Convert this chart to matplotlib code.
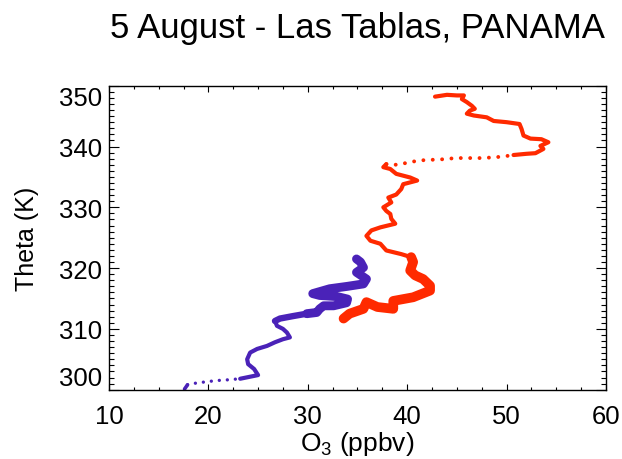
import matplotlib
matplotlib.use("Agg")
import matplotlib.pyplot as plt
from matplotlib.ticker import MultipleLocator

plt.rcParams["font.family"] = ["Liberation Sans", "DejaVu Sans"]
plt.rcParams["mathtext.fontset"] = "custom"
plt.rcParams["mathtext.rm"] = "Liberation Sans"
plt.rcParams["mathtext.default"] = "rm"

# purple profile (lower)
purple_o3 = [17.6, 17.9, 18.8, 19.8, 20.8, 21.8, 23.2, 25.0, 24.6, 24.0,
             23.9, 24.2, 24.9, 25.9, 26.7, 27.5, 28.2, 27.9, 27.5, 26.9,
             26.7, 27.2, 28.5, 29.9, 30.9, 31.2, 31.6, 32.6, 33.9, 34.0,
             33.0, 31.2, 30.5, 32.2, 34.0, 35.6, 35.9, 34.9, 35.6, 35.3, 34.9]
purple_theta = [300.1, 300.8, 301.1, 301.3, 301.5, 301.6, 301.8, 302.4, 303.4, 304.2,
                305.0, 306.1, 306.7, 307.2, 307.8, 308.3, 308.6, 309.4, 310.0, 310.5,
                311.3, 311.7, 312.1, 312.5, 312.7, 313.3, 313.8, 313.8, 314.3, 314.9,
                315.3, 315.5, 315.8, 316.6, 317.0, 317.4, 318.2, 319.3, 320.1, 321.0, 321.5]

# red profile (upper)
red_o3 = [33.6, 34.2, 35.6, 35.9, 37.0, 38.6, 38.6, 40.6, 42.3, 42.3,
          41.6, 40.8, 40.3, 40.6, 40.4, 39.4, 37.9, 37.3, 36.3, 35.9,
          36.4, 37.3, 38.8, 38.4, 38.3, 37.9, 37.6, 38.4, 38.1, 38.9,
          39.4, 39.6, 41.0, 40.3, 38.9, 38.3, 37.6, 37.9,
          38.9, 40.3, 41.1, 42.3, 43.6, 44.9, 45.9, 47.3, 48.6, 49.3, 50.3,
          50.7, 52.0, 52.9, 53.7, 53.4, 54.2, 53.5, 52.4, 51.7, 51.5,
          51.3, 50.0, 48.7, 48.0, 46.7, 46.0, 46.3, 46.8, 46.5, 46.0,
          45.5, 45.7, 45.0, 44.0, 42.8]
red_theta = [311.7, 312.5, 313.3, 314.4, 313.6, 313.3, 314.6, 315.2, 316.3, 317.1,
             318.2, 318.8, 319.6, 321.0, 321.8, 322.3, 322.9, 324.0, 324.5, 325.3,
             326.2, 326.7, 327.3, 328.1, 328.9, 329.4, 330.0, 330.8, 331.6, 332.1,
             333.0, 333.8, 334.4, 334.9, 335.5, 336.3, 336.6, 337.1,
             337.0, 337.4, 337.7, 337.8, 337.9, 338.1, 338.1, 338.1, 338.2, 338.3, 338.5,
             338.6, 338.8, 338.9, 339.6, 340.1, 340.7, 341.2, 341.3, 341.8, 342.9,
             343.7, 344.0, 344.2, 344.8, 345.1, 345.4, 345.9, 346.2, 346.7, 347.3,
             347.8, 348.4, 348.4, 348.5, 348.2]

x_ticks = [10, 20, 30, 40, 50, 60]
y_ticks = [300, 310, 320, 330, 340, 350]

purple = "#4a22b8"
red = "#ff2a00"

fig = plt.figure(figsize=(6.22, 4.6), dpi=100)
ax = fig.add_axes([0.1752, 0.1507, 0.7991, 0.6608])


def draw_piece(x, y, i0, i1, color, lw, dotted=False):
    xs = x[i0:i1 + 1]
    ys = y[i0:i1 + 1]
    if dotted:
        ax.plot(xs, ys, color=color, lw=lw, linestyle=(0, (0.01, 2.4)),
                dash_capstyle="round")
    else:
        ax.plot(xs, ys, color=color, lw=lw, solid_capstyle="round",
                solid_joinstyle="round")


# purple: sparse dots at the bottom, thin, then a thick band
draw_piece(purple_o3, purple_theta, 0, 1, purple, 2.6)
draw_piece(purple_o3, purple_theta, 1, 6, purple, 2.4, dotted=True)
draw_piece(purple_o3, purple_theta, 6, 20, purple, 3.0)
draw_piece(purple_o3, purple_theta, 20, 23, purple, 4.6)
draw_piece(purple_o3, purple_theta, 23, len(purple_o3) - 1, purple, 6.4)

# red: thick band at the bottom, thin above, sparse dots across the gap
draw_piece(red_o3, red_theta, 0, 14, red, 7.0)
draw_piece(red_o3, red_theta, 14, 37, red, 3.0)
draw_piece(red_o3, red_theta, 37, 49, red, 2.8, dotted=True)
draw_piece(red_o3, red_theta, 49, len(red_o3) - 1, red, 3.0)

ax.set_xlim(10, 60)
ax.set_ylim(300, 350)
ax.set_xticks(x_ticks)
ax.set_yticks(y_ticks)
ax.xaxis.set_minor_locator(MultipleLocator(2.5))
ax.yaxis.set_minor_locator(MultipleLocator(1))

ax.tick_params(axis="both", which="both", direction="in", top=True, right=True,
               width=0.8, labelsize=18.5)
ax.tick_params(axis="x", which="major", length=4.3, pad=10)
ax.tick_params(axis="x", which="minor", length=2.2)
ax.tick_params(axis="y", which="major", length=7.2, pad=5)
ax.tick_params(axis="y", which="minor", length=3.6)
for s in ax.spines.values():
    s.set_linewidth(1.0)

# end labels on the y axis sit inside the axis range
yt = ax.yaxis.get_major_ticks()
yt[0].label1.set_va("bottom")
yt[-1].label1.set_va("top")

ax.set_xlabel("O$_3$ (ppbv)", fontsize=19, labelpad=1)
ax.set_ylabel("Theta (K)", fontsize=18, labelpad=14)
ax.set_title("5 August - Las Tablas, PANAMA", fontsize=25, pad=35)

fig.savefig("out.png", dpi=100)
